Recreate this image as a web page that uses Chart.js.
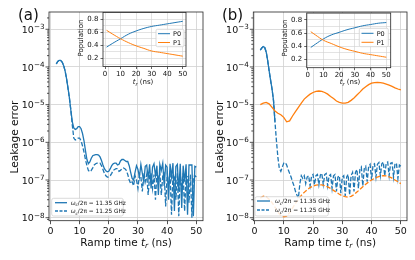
<!DOCTYPE html>
<html><head><meta charset="utf-8">
<script src="https://cdn.jsdelivr.net/npm/chart.js@4.4.1/dist/chart.umd.min.js"></script>
<style>
html,body{margin:0;padding:0;background:#fff;}
body{width:415px;height:260px;position:relative;overflow:hidden;}
canvas{position:absolute;}
</style></head><body>
<canvas id="cA" width="212" height="260" style="left:0px;top:0px"></canvas>
<canvas id="cB" width="212" height="260" style="left:204px;top:0px"></canvas>
<canvas id="iA" width="130" height="92" style="left:70px;top:0px"></canvas>
<canvas id="iB" width="130" height="92" style="left:274px;top:0px"></canvas>
<script>
// ---------- data ----------
const tFine = [2,2.5,3,3.5,4,4.5,5,5.5,6,6.5,7,7.5,8,8.5,9,9.5,10,10.5,11,11.5,12,12.5,13,13.5,14,14.5,15,15.5,16,16.5,17,17.5,18,18.5,19,19.5,20,20.5,21,21.5,22,22.5,23,23.5,24,24.5,25,25.5,26,26.5,27,27.5,28,28.5,29,29.5,30,30.5,31,31.5,32,32.5,33,33.5,34,34.5,35,35.5,36,36.5,37,37.5,38,38.5,39,39.5,40,40.5,41,41.5,42,42.5,43,43.5,44,44.5,45,45.5,46,46.5,47,47.5,48,48.5,49,49.5,50];
const tCoarse = [2,3,4,5,6,7,8,9,10,11,12,13,14,15,16,17,18,19,20,21,22,23,24,25,26,27,28,29,30,31,32,33,34,35,36,37,38,39,40,41,42,43,44,45,46,47,48,49,50];
const tEarly = [2,2.5,3,3.5,4,4.5,5,5.5,6,6.5,7];

// panel (a): leakage error, wc/2pi = 11.35 GHz (solid) and 11.25 GHz (dashed)
const leakA1135 = [1.2e-4,1.4e-4,1.5e-4,1.5e-4,1.35e-4,1.1e-4,8e-5,5e-5,2.8e-5,1.5e-5,7e-6,3.5e-6,2.4e-6,2.2e-6,2.3e-6,2.6e-6,2.6e-6,2.3e-6,1.7e-6,1.1e-6,6e-7,3.5e-7,2.7e-7,3e-7,3.8e-7,4.4e-7,4.6e-7,4.7e-7,4.7e-7,4.6e-7,4.1e-7,3.3e-7,2.5e-7,2e-7,1.75e-7,1.65e-7,1.7e-7,2e-7,2.4e-7,2.7e-7,2.8e-7,2.8e-7,2.5e-7,2.6e-7,3.2e-7,3.5e-7,3.5e-7,3.3e-7,3.1e-7,3.1e-7,2.4e-7,1.6e-7,1.1e-7,1e-7,
  1.6e-7,2.4e-7,1.9e-7,1.2e-7,2.6e-7,1.5e-7,9e-8,2.3e-7,2.5e-7,1.1e-7,2.6e-7,6e-8,2.2e-7,2.7e-7,1.3e-7,2.4e-7,4e-8,2.6e-7,1.8e-7,2.8e-7,7e-8,2.5e-7,2.2e-7,3e-8,2.7e-7,1.2e-7,2.8e-7,1.5e-8,2.3e-7,2.6e-7,5e-8,2.7e-7,1.8e-8,2.4e-7,9e-8,2.6e-7,1.2e-8,2.5e-7,2.5e-7,2.5e-7,1.1e-8,2.3e-7,2.2e-7];
const leakA1125 = [1.2e-4,1.4e-4,1.5e-4,1.5e-4,1.35e-4,1.1e-4,8e-5,5e-5,2.8e-5,1.5e-5,7e-6,2.8e-6,1.3e-6,1.15e-6,1.2e-6,1.3e-6,1.3e-6,1.1e-6,8e-7,5.5e-7,3.5e-7,2.4e-7,1.8e-7,1.65e-7,1.8e-7,2.1e-7,2.5e-7,2.7e-7,2.8e-7,2.8e-7,2.8e-7,2.4e-7,1.9e-7,1.5e-7,1.3e-7,1.2e-7,1.2e-7,1.3e-7,1.5e-7,1.8e-7,1.9e-7,2e-7,2e-7,1.7e-7,1.8e-7,2e-7,2.1e-7,2e-7,1.8e-7,1.4e-7,1e-7,8e-8,9e-8,7e-8,
  1.3e-7,1.0e-7,6e-8,1.4e-7,1.2e-7,5e-8,1.5e-7,9e-8,1.4e-7,4e-8,1.3e-7,1.5e-7,6e-8,1.4e-7,3e-8,1.5e-7,1.1e-7,1.6e-7,4e-8,1.3e-7,1.5e-7,2e-8,1.4e-7,8e-8,1.5e-7,1.2e-8,1.3e-7,1.4e-7,3e-8,1.5e-7,1.1e-8,1.4e-7,6e-8,1.5e-7,1.5e-8,1.3e-7,1.2e-7,2.5e-8,1.4e-7,1e-8,1.2e-7,1.3e-7,1.2e-7];

// panel (b)
const leakB1125 = [2.8e-4,3.2e-4,3.5e-4,3.3e-4,2.5e-4,1.5e-4,8e-5,4.5e-5,2.6e-5,1.3e-5,3.5e-6,1.1e-6,4e-7,2e-7,1.7e-7,2.2e-7,2.8e-7,2.9e-7,2.5e-7,1.9e-7,1.5e-7,1.2e-7,9e-8,7e-8,5e-8,4e-8,3.3e-8,8e-8,1.3e-7,
  1.1e-7,1.3e-7,8e-8,1.2e-7,1.3e-7,7e-8,1.25e-7,1.4e-7,7.5e-8,1.3e-7,1.4e-7,7.5e-8,1.35e-7,1.5e-7,7.5e-8,1.4e-7,1.5e-7,7e-8,1.3e-7,1.4e-7,6e-8,1.3e-7,1.4e-7,5e-8,1.2e-7,1.3e-7,4.5e-8,1.2e-7,1.3e-7,3.8e-8,1.2e-7,1.4e-7,4e-8,1.3e-7,1.6e-7,5e-8,1.6e-7,1.9e-7,6e-8,1.9e-7,2.2e-7,7e-8,2e-7,2.3e-7,9e-8,2.3e-7,2.6e-7,1e-7,2.5e-7,2.7e-7,1.2e-7,2.6e-7,2.9e-7,1.3e-7,2.7e-7,3e-7,1.3e-7,2.8e-7,3e-7,1.3e-7,2.8e-7,2.9e-7,1.2e-7,2.7e-7,2.8e-7,1.1e-7,2.5e-7,2.3e-7];
const leakB1135 = [2.8e-4,3.2e-4,3.5e-4,3.3e-4,2.5e-4,1.5e-4,8e-5,4.5e-5,2.6e-5,1.3e-5,3.5e-6];
const leakBOrangeSolid = [1.0e-5,1.1e-5,1.15e-5,1.05e-5,8.5e-6,6.8e-6,5.9e-6,5.4e-6,4.6e-6,3.5e-6,3.7e-6,5e-6,6.5e-6,8.5e-6,1.1e-5,1.4e-5,1.65e-5,1.9e-5,2.1e-5,2.25e-5,2.3e-5,2.25e-5,2.1e-5,1.9e-5,1.65e-5,1.45e-5,1.25e-5,1.15e-5,1.1e-5,1.1e-5,1.15e-5,1.3e-5,1.5e-5,1.8e-5,2.15e-5,2.6e-5,3e-5,3.4e-5,3.7e-5,3.85e-5,3.9e-5,3.85e-5,3.7e-5,3.5e-5,3.3e-5,3.05e-5,2.8e-5,2.6e-5,2.45e-5];
const leakBOrangeDashed = [3.3e-8,3.7e-8,3.6e-8,3.1e-8,2.5e-8,1.9e-8,1.4e-8,1.15e-8,1.05e-8,1.1e-8,1.35e-8,1.8e-8,2.4e-8,3.1e-8,3.9e-8,4.7e-8,5.5e-8,6.3e-8,6.9e-8,7.3e-8,7.5e-8,7.4e-8,7.1e-8,6.6e-8,6e-8,5.3e-8,4.7e-8,4.2e-8,3.8e-8,3.6e-8,3.5e-8,3.7e-8,4.1e-8,4.8e-8,5.6e-8,6.6e-8,7.7e-8,8.9e-8,1e-7,1.1e-7,1.2e-7,1.27e-7,1.3e-7,1.28e-7,1.22e-7,1.12e-7,1e-7,9e-8,8e-8];

// insets: populations
const tInsetA = [1,5,10,15,20,25,30,35,40,45,50];
const p0A = [0.37,0.43,0.50,0.57,0.62,0.66,0.69,0.71,0.73,0.75,0.77];
const p1A = [0.63,0.57,0.50,0.44,0.39,0.35,0.31,0.29,0.27,0.25,0.23];
const tInsetB = [2,5,10,15,20,25,30,35,40,45,50];
const p0B = [0.38,0.43,0.51,0.57,0.61,0.65,0.68,0.71,0.73,0.75,0.76];
const p1B = [0.62,0.57,0.49,0.44,0.39,0.35,0.32,0.29,0.27,0.25,0.23];

// ticks
const rampTicks = [0,10,20,30,40,50];
const rampTickLabels = ['0','10','20','30','40','50'];
const yTickVals = [1e-8,1e-7,1e-6,1e-5,1e-4,1e-3];
const yTickExp = ['\u22128','\u22127','\u22126','\u22125','\u22124','\u22123'];
const popGrid = [0.1,0.2,0.3,0.4,0.5,0.6,0.7,0.8,0.9];
const popTicks = [0.2,0.4,0.6,0.8];
const popTickLabels = ['0.2','0.4','0.6','0.8'];

// ---------- drawing ----------
Chart.defaults.font.family = '"DejaVu Sans", sans-serif';
Chart.defaults.color = '#222';
const AX = '#262626', GRID = '#d0d0d0', BLUE = '#1f77b4', ORANGE = '#ff7f0e';
const FAM = '"DejaVu Sans", sans-serif';
const pts = (xs, ys) => ys.map((v, i) => ({ x: xs[i], y: v }));

function rich(ctx, parts, x, y, align, rot) {
  ctx.save();
  ctx.translate(x, y);
  if (rot) ctx.rotate(rot);
  ctx.textAlign = 'left'; ctx.textBaseline = 'alphabetic'; ctx.fillStyle = '#111';
  let w = 0;
  parts.forEach(p => { ctx.font = (p[2] || '') + ' ' + p[1] + 'px ' + FAM; w += ctx.measureText(p[0]).width; });
  let cx = align === 'center' ? -w / 2 : align === 'right' ? -w : 0;
  parts.forEach(p => { ctx.font = (p[2] || '') + ' ' + p[1] + 'px ' + FAM; ctx.fillText(p[0], cx, p[3] || 0); cx += ctx.measureText(p[0]).width; });
  ctx.restore();
}
function roundBox(ctx, x0, y0, x1, y1, r) {
  ctx.beginPath();
  ctx.moveTo(x0 + r, y0); ctx.lineTo(x1 - r, y0); ctx.quadraticCurveTo(x1, y0, x1, y0 + r);
  ctx.lineTo(x1, y1 - r); ctx.quadraticCurveTo(x1, y1, x1 - r, y1);
  ctx.lineTo(x0 + r, y1); ctx.quadraticCurveTo(x0, y1, x0, y1 - r);
  ctx.lineTo(x0, y0 + r); ctx.quadraticCurveTo(x0, y0, x0 + r, y0);
  ctx.closePath();
  ctx.fillStyle = 'rgba(255,255,255,0.85)'; ctx.fill();
  ctx.strokeStyle = '#cccccc'; ctx.lineWidth = 0.7; ctx.stroke();
}
function sample(ctx, x0, x1, y, color, dash, lw) {
  ctx.save(); ctx.beginPath(); ctx.setLineDash(dash); ctx.strokeStyle = color; ctx.lineWidth = lw;
  ctx.moveTo(x0, y); ctx.lineTo(x1, y); ctx.stroke(); ctx.restore();
}

function mainDecor(o) {
  return { id: 'mainDecor', afterDraw(chart) {
    const ctx = chart.ctx, a = chart.chartArea, ys = chart.scales.y, ox = o.off;
    ctx.save();
    ctx.strokeStyle = AX; ctx.lineWidth = 0.8;
    ctx.strokeRect(a.left, a.top, a.right - a.left, a.bottom - a.top);
    ctx.beginPath();
    for (let e = -9; e <= -2; e++) for (let m = 1; m <= 9; m++) {
      const v = m * Math.pow(10, e);
      if (v < ys.min || v > ys.max) continue;
      const py = ys.getPixelForValue(v), len = m === 1 ? 3.5 : 2;
      ctx.moveTo(a.left - len, py); ctx.lineTo(a.left, py);
    }
    ctx.stroke();
    ctx.restore();
    yTickVals.forEach((v, i) => {
      const py = ys.getPixelForValue(v);
      rich(ctx, [['10', 9.5, ''], [yTickExp[i], 7.2, '', -3.8]], a.left - 4.5, py + 3.8, 'right');
    });
    rich(ctx, [[o.letter, 15, '']], o.letterX - ox, 20, 'left');
    rich(ctx, [['Leakage error', 10.5, '']], o.ylabX - ox, 137, 'center', -Math.PI / 2);
    rich(ctx, [['Ramp time ', 10.5, ''], ['t', 10.5, 'italic'], ['r', 7.5, 'italic', 2], [' (ns)', 10.5, '']], (a.left + a.right) / 2, 245.5, 'center');
    const L = o.legend;
    roundBox(ctx, L.x0 - ox, L.y0, L.x1 - ox, L.y1, 2);
    L.rows.forEach(r => {
      sample(ctx, L.sx0 - ox, L.sx1 - ox, r.y, r.color, r.dash, 1.3);
      rich(ctx, [['\u03c9', 5.8, 'italic'], ['c', 4.2, 'italic', 1.5], ['/2\u03c0 = ' + r.text, 5.8, '']], L.tx - ox, r.y + 2, 'left');
    });
  } };
}

function mainChart(id, off, padL, datasets, xMin, xMax, deco) {
  return new Chart(document.getElementById(id), {
    type: 'line',
    data: { datasets },
    options: {
      responsive: false, animation: false, devicePixelRatio: 1, events: [],
      layout: { padding: { left: padL, right: 9, top: 12, bottom: 21.3 } },
      plugins: { legend: { display: false }, tooltip: { enabled: false } },
      elements: { point: { radius: 0 }, line: { tension: 0 } },
      scales: {
        x: { type: 'linear', min: xMin, max: xMax,
          afterBuildTicks: s => { s.ticks = rampTicks.map(v => ({ value: v })); },
          afterFit: s => { s.height = 18; },
          ticks: { font: { size: 9.5 }, padding: 2, color: '#111', maxRotation: 0, autoSkip: false,
            callback: v => { const i = rampTicks.indexOf(v); return i >= 0 ? rampTickLabels[i] : ''; } },
          grid: { color: GRID, lineWidth: 0.8, tickColor: AX, tickLength: 3.5, tickWidth: 0.8 },
          border: { display: false } },
        y: { type: 'logarithmic', min: 8.32e-9, max: 2.876e-3,
          afterBuildTicks: s => { s.ticks = yTickVals.map(v => ({ value: v })); },
          afterFit: s => { s.width = 40; },
          ticks: { display: false },
          grid: { color: GRID, lineWidth: 0.8, drawTicks: false },
          border: { display: false } }
      }
    },
    plugins: [mainDecor(deco)]
  });
}

function insetDecor(o) {
  return { id: 'insetDecor',
    beforeDraw(chart) {
      const ctx = chart.ctx, a = chart.chartArea;
      ctx.save(); ctx.fillStyle = '#fff'; ctx.fillRect(a.left, a.top, a.right - a.left, a.bottom - a.top); ctx.restore();
    },
    afterDraw(chart) {
      const ctx = chart.ctx, a = chart.chartArea, ox = o.off;
      ctx.save(); ctx.strokeStyle = AX; ctx.lineWidth = 0.8;
      ctx.strokeRect(a.left, a.top, a.right - a.left, a.bottom - a.top); ctx.restore();
      rich(ctx, [['Population', 7, '']], o.ylabX - ox, 38, 'center', -Math.PI / 2);
      rich(ctx, [['t', 7, 'italic'], ['r', 5, 'italic', 1.5], [' (ns)', 7, '']], o.xlabX - ox, 84, 'center');
      const L = o.legend;
      roundBox(ctx, L.x0 - ox, L.y0, L.x1 - ox, L.y1, 1.5);
      L.rows.forEach(r => {
        sample(ctx, L.sx0 - ox, L.sx1 - ox, r.y, r.color, [], 1);
        rich(ctx, [[r.text, 6.5, '']], L.tx - ox, r.y + 2.3, 'left');
      });
    } };
}

function insetChart(id, pad, t, p0, p1, xMin, xMax, deco) {
  return new Chart(document.getElementById(id), {
    type: 'line',
    data: { datasets: [
      { data: pts(t, p1), borderColor: ORANGE, borderWidth: 1, pointRadius: 0, tension: 0.4 },
      { data: pts(t, p0), borderColor: BLUE, borderWidth: 1, pointRadius: 0, tension: 0.4 }
    ] },
    options: {
      responsive: false, animation: false, devicePixelRatio: 1, events: [],
      layout: { padding: pad },
      plugins: { legend: { display: false }, tooltip: { enabled: false } },
      scales: {
        x: { type: 'linear', min: xMin, max: xMax,
          afterBuildTicks: s => { s.ticks = rampTicks.map(v => ({ value: v })); },
          afterFit: s => { s.height = 12; },
          ticks: { font: { size: 7 }, padding: 1, color: '#111', maxRotation: 0, autoSkip: false,
            callback: v => { const i = rampTicks.indexOf(v); return i >= 0 ? rampTickLabels[i] : ''; } },
          grid: { color: GRID, lineWidth: 0.6, tickColor: AX, tickLength: 2.5, tickWidth: 0.7 },
          border: { display: false } },
        y: { type: 'linear', min: 0.07, max: 0.906,
          afterBuildTicks: s => { s.ticks = popGrid.map(v => ({ value: v })); },
          afterFit: s => { s.width = 20; },
          ticks: { font: { size: 7 }, padding: 2, color: '#111', autoSkip: false,
            callback: v => { const i = popTicks.indexOf(v); return i >= 0 ? popTickLabels[i] : ''; } },
          grid: { color: GRID, lineWidth: 0.6, tickLength: 2.5, tickWidth: 0.7,
            tickColor: c => (c.tick && popTicks.indexOf(c.tick.value) >= 0) ? AX : 'rgba(0,0,0,0)' },
          border: { display: false } }
      }
    },
    plugins: [insetDecor(deco)]
  });
}

const lineDs = (xs, ys, color, dash) => ({ data: pts(xs, ys), borderColor: color, borderWidth: 1.3, borderDash: dash, pointRadius: 0, tension: 0 });

mainChart('cA', 0, 9, [
  lineDs(tFine, leakA1135, BLUE, []),
  lineDs(tFine, leakA1125, BLUE, [4.5, 2])
], -0.5, 52.3, {
  off: 0, letter: '(a)', letterX: 18, ylabX: 17.5,
  legend: { x0: 51.7, y0: 198.3, x1: 123.3, y1: 216, sx0: 55, sx1: 67, tx: 70.7,
    rows: [ { y: 202.7, color: BLUE, dash: [], text: '11.35 GHz' }, { y: 211, color: BLUE, dash: [3, 1.5], text: '11.25 GHz' } ] }
});

mainChart('cB', 204, 9.3, [
  lineDs(tCoarse, leakBOrangeDashed, ORANGE, [4.5, 2]),
  lineDs(tCoarse, leakBOrangeSolid, ORANGE, []),
  lineDs(tEarly, leakB1135, BLUE, []),
  lineDs(tFine, leakB1125, BLUE, [4.5, 2])
], -0.4, 52.1, {
  off: 204, letter: '(b)', letterX: 222, ylabX: 222.5,
  legend: { x0: 255, y0: 196.7, x1: 328.3, y1: 216, sx0: 257, sx1: 270, tx: 275,
    rows: [ { y: 201, color: BLUE, dash: [], text: '11.35 GHz' }, { y: 210, color: BLUE, dash: [3, 1.5], text: '11.25 GHz' } ] }
});

insetChart('iA', { left: 13, right: 14, top: 12.5, bottom: 13.5 }, tInsetA, p0A, p1A, -1.3, 52.1, {
  off: 70, ylabX: 82.5, xlabX: 143,
  legend: { x0: 156, y0: 29.3, x1: 184, y1: 46.7, sx0: 158, sx1: 170, tx: 173,
    rows: [ { y: 33.7, color: BLUE, text: 'P0' }, { y: 42.5, color: ORANGE, text: 'P1' } ] }
});
insetChart('iB', { left: 12.7, right: 13.3, top: 13, bottom: 12.3 }, tInsetB, p0B, p1B, -0.6, 52.8, {
  off: 274, ylabX: 286.5, xlabX: 350,
  legend: { x0: 359.3, y0: 28.3, x1: 388.3, y1: 46.7, sx0: 361.5, sx1: 373.5, tx: 376.7,
    rows: [ { y: 33.3, color: BLUE, text: 'P0' }, { y: 42.3, color: ORANGE, text: 'P1' } ] }
});
</script>
</body></html>
